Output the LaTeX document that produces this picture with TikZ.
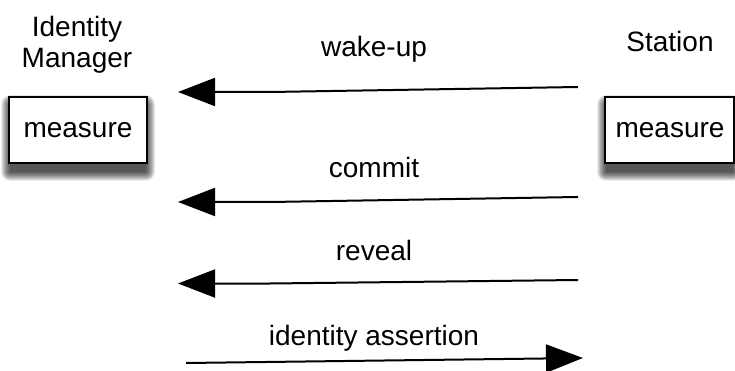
\documentclass[tikz,border=0pt]{standalone}
\usepackage{fontspec}
\setmainfont{Liberation Sans}
\usetikzlibrary{arrows.meta,backgrounds,calc}
\begin{document}
\begin{tikzpicture}[x=1pt,y=-1pt,
  every node/.style={font=\fontsize{28}{32}\selectfont, inner sep=0pt},
  lbl/.style={anchor=base},
  mbox/.style={draw=black, line width=1.5pt, fill=white, minimum height=66pt},
  shadowlayer/.style={fill=black, fill opacity=0.1, draw=none},
  msg/.style={line width=2pt, -{Triangle[length=37pt,width=28pt]}}]
\useasboundingbox (0,0) rectangle (735,371);
% participants
\node[lbl] (id1) at (77,37) {Identity};
\node[lbl] (id2) at (77,68) {Manager};
\node[lbl] (st) at (670,52) {Station};
\node[mbox, minimum width=138pt] (imbox) at (78,130) {};
\node[mbox, minimum width=129pt] (stbox) at (669.5,130) {};
\node[lbl] (imtxt) at (78,138) {measure};
\node[lbl] (sttxt) at (670,138) {measure};
% shadows
\begin{scope}[on background layer]
  \foreach \b in {imbox,stbox}{
    \foreach \r in {0,...,9}{
      \fill[shadowlayer, rounded corners=\r pt]
        ($(\b.north west)+(2-\r,8-\r)$) rectangle ($(\b.south east)+(\r-2,8+\r)$);
    }
  }
\end{scope}
% message labels
\node[lbl] (l1) at (374,57) {wake-up};
\node[lbl] (l2) at (374,178) {commit};
\node[lbl] (l3) at (374,260) {reveal};
\node[lbl] (l4) at (374,345) {identity assertion};
% coordinates
\coordinate (a1s) at (578,87);
\coordinate (a1k) at (270,92);
\coordinate (a1e) at (178,92);
\coordinate (a2s) at (578,197);
\coordinate (a2k) at (270,202);
\coordinate (a2e) at (178,202);
\coordinate (a3s) at (578,280);
\coordinate (a3k) at (270,283.5);
\coordinate (a3e) at (178,283.5);
\coordinate (a4s) at (186,363);
\coordinate (a4e) at (583,358);
% arrows
\draw[msg] (a1s) -- (a1k) -- (a1e);
\draw[msg] (a2s) -- (a2k) -- (a2e);
\draw[msg] (a3s) -- (a3k) -- (a3e);
\draw[msg] (a4s) -- (a4e);
\end{tikzpicture}
\end{document}
